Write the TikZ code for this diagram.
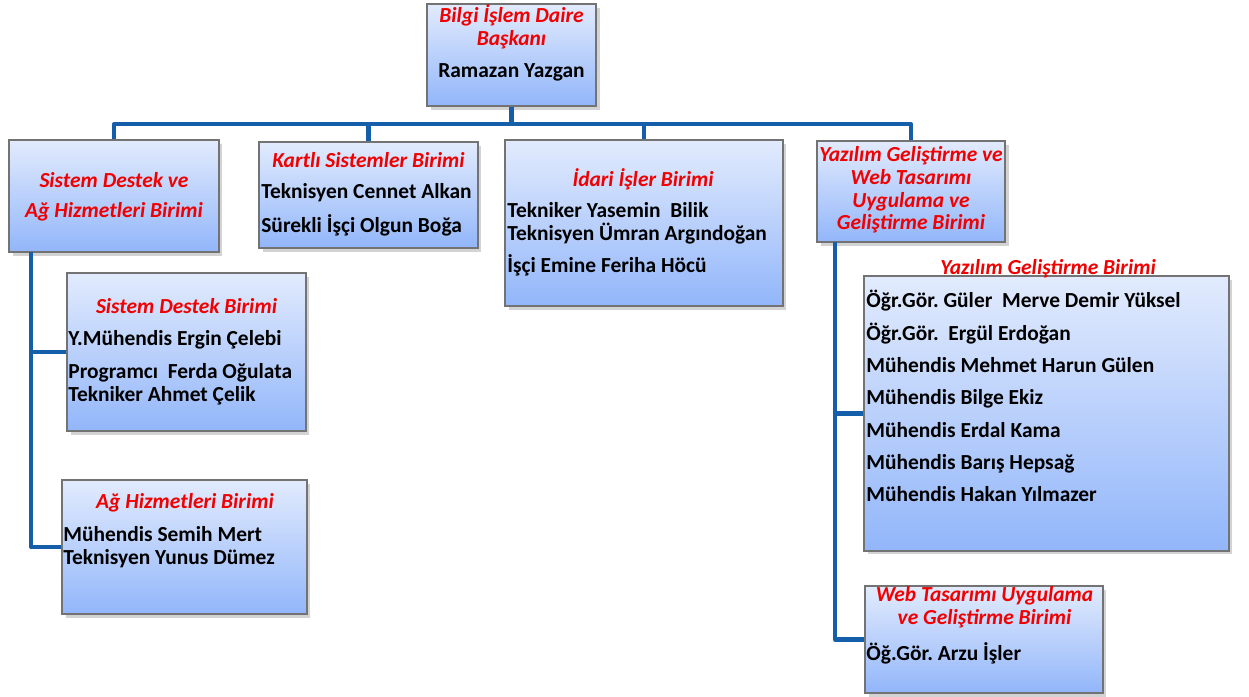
\documentclass[tikz,border=0pt]{standalone}
\usepackage{fontspec}
\setmainfont{Carlito}
\usetikzlibrary{shadows}
\definecolor{linkblue}{RGB}{20,94,170}
\definecolor{boxtop}{RGB}{226,235,253}
\definecolor{boxbot}{RGB}{146,182,250}
\definecolor{unitred}{RGB}{240,0,0}
\frenchspacing
\tikzstyle{unit} = [rectangle, draw=black!55, line width=0.7pt, top color=boxtop, bottom color=boxbot, drop shadow={shadow xshift=2pt, shadow yshift=-2pt, opacity=0.35}]
\tikzstyle{head} = [inner sep=0pt, align=center, text=unitred, font=\fontsize{12.2}{13}\selectfont\bfseries\itshape]
\tikzstyle{staff} = [inner sep=0pt, align=left, anchor=north west, font=\fontsize{12.2}{13}\selectfont\bfseries]
\tikzstyle{link} = [line width=2.3pt, draw=linkblue, line join=round]

\begin{document}
\begin{tikzpicture}[x=0.02cm, y=-0.02cm]
            \useasboundingbox (0,0) rectangle (1249,697);

            \node [unit, minimum width=3.38cm, minimum height=2.04cm] at (511.5,55) (bsk) {};
            \node [head, anchor=north] at (511.5,4) (bsk-t) {Bilgi İşlem Daire\\Başkanı\\[0.2cm]\textcolor{black}{\upshape Ramazan Yazgan}};

            \node [unit, minimum width=4.2cm, minimum height=2.24cm] at (114,196) (sdag) {};
            \node [head, anchor=north] at (114,172) (sdag-t) {Sistem Destek ve\\[0.14cm]Ağ Hizmetleri Birimi};

            \node [unit, minimum width=4.38cm, minimum height=2.12cm] at (368.5,195) (kart) {};
            \node [head, anchor=base] at (368.5,167) (kart-t) {Kartlı Sistemler Birimi};
            \node [staff] at (261,183) (kart-s) {Teknisyen Cennet Alkan\\[0.22cm]Sürekli İşçi Olgun Boğa};

            \node [unit, minimum width=5.56cm, minimum height=3.32cm] at (644,223) (idari) {};
            \node [head, anchor=base] at (643,186) (idari-t) {İdari İşler Birimi};
            \node [staff] at (507,202) (idari-s) {Tekniker Yasemin~ Bilik\\Teknisyen Ümran Argındoğan\\[0.18cm]İşçi Emine Feriha Höcü};

            \node [unit, minimum width=3.76cm, minimum height=2.02cm] at (911,191.5) (yzweb) {};
            \node [head, anchor=north] at (911,146) (yzweb-t) {Yazılım Geliştirme ve\\Web Tasarımı\\Uygulama ve\\Geliştirme Birimi};

            \node [unit, minimum width=4.78cm, minimum height=3.16cm] at (186.5,352) (sdb) {};
            \node [head, anchor=base] at (186.5,313) (sdb-t) {Sistem Destek Birimi};
            \node [staff] at (68,330) (sdb-s) {Y.Mühendis Ergin Çelebi\\[0.2cm]Programcı~ Ferda Oğulata\\Tekniker Ahmet Çelik};

            \node [unit, minimum width=4.9cm, minimum height=2.68cm] at (184.5,547) (agh) {};
            \node [head, anchor=base] at (185,508) (agh-t) {Ağ Hizmetleri Birimi};
            \node [staff] at (63,526) (agh-s) {Mühendis Semih Mert\\Teknisyen Yunus Dümez};

            \node [unit, minimum width=7.3cm, minimum height=5.5cm] at (1046.5,413.5) (yzb) {};
            \node [head, anchor=base] at (1048,274) (yzb-t) {Yazılım Geliştirme Birimi};
            \node [staff] at (866,290) (yzb-s) {Öğr.Gör. Güler~ Merve Demir Yüksel\\[0.19cm]Öğr.Gör.~ Ergül Erdoğan\\[0.19cm]Mühendis Mehmet Harun Gülen\\[0.19cm]Mühendis Bilge Ekiz\\[0.19cm]Mühendis Erdal Kama\\[0.19cm]Mühendis Barış Hepsağ\\[0.19cm]Mühendis Hakan Yılmazer};

            \node [unit, minimum width=4.76cm, minimum height=2.14cm] at (984,639.5) (web) {};
            \node [head, anchor=north] at (984.5,586) (web-t) {Web Tasarımı Uygulama\\ve Geliştirme Birimi};
            \node [staff] at (866,642) (web-s) {Öğ.Gör. Arzu İşler};

            \coordinate (bus) at (511,124);
            \foreach \u in {sdag,kart,idari,yzweb}
                \draw [link] (bsk.south) -- (bsk.south |- bus) -| (\u.north);
            \coordinate (sdtrunk) at (31,252);
            \draw [link] (sdtrunk) |- (sdb.west);
            \draw [link] (sdtrunk) |- (agh.west);
            \coordinate (yztrunk) at (835,242);
            \draw [link] (yztrunk) |- (yzb.west);
            \draw [link] (yztrunk) |- (web.west);
\end{tikzpicture}
\end{document}
